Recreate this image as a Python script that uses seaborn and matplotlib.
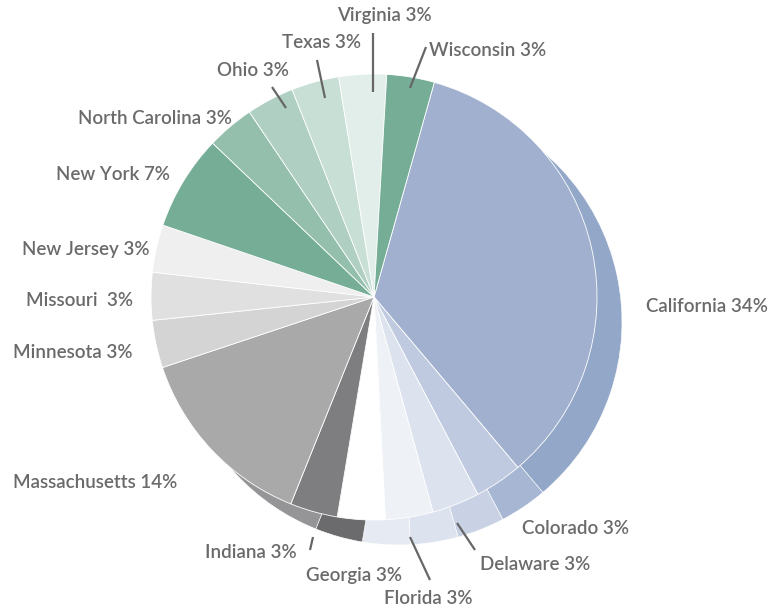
import numpy as np
import matplotlib
matplotlib.use("Agg")
import matplotlib.pyplot as plt
import seaborn as sns

# data
states = ["California", "Colorado", "Delaware", "Florida", "Georgia", "Indiana",
          "Massachusetts", "Minnesota", "Missouri", "New Jersey", "New York",
          "North Carolina", "Ohio", "Texas", "Virginia", "Wisconsin"]
counts = [10, 1, 1, 1, 1, 1, 4, 1, 1, 1, 2, 1, 1, 1, 1, 1]
pct_text = ["34%", "3%", "3%", "3%", "3%", "3%", "14%", "3%", " 3%", "3%",
            "7%", "3%", "3%", "3%", "3%", "3%"]

colors = ["#a0b0ce", "#bfcae0", "#dce3ee", "#eef1f6", "#ffffff", "#7e7e80",
          "#a9a9aa", "#d4d4d4", "#e0e0e0", "#efefef", "#75ad97", "#93bfac",
          "#aecfc1", "#c8dfd5", "#e2eeea", "#75ad97"]
shadow_colors = ["#93a8c9", "#a7b6d3", "#c9d2e4", "#dde3ee", "#e6ebf3", "#6b6b6d",
                 "#959597", "#c0c0c0", "#cccccc", "#dcdcdc", "#65a088", "#82b29d",
                 "#9dc3b3", "#b7d4c8", "#d2e3dc", "#65a088"]

# layout (pixel coords, y from top)
W, H = 774, 610
cx, cy, R = 374, 297, 223
shift = 25
label_xy = [(707, 307), (576, 528), (535, 565), (428, 598), (354, 576), (251, 552),
            (95, 483), (73, 352), (80, 301), (86, 250), (113, 175), (155, 118),
            (253, 70), (322, 43), (384, 15), (488, 50)]
leaders = {"Wisconsin": ((410, 88), (426, 47)),
           "Virginia": ((373, 92), (373, 33)),
           "Texas": ((325, 98), (317, 60)),
           "Ohio": ((286, 108), (272, 87)),
           "Indiana": ((313, 537), (310, 550)),
           "Florida": ((410, 537), (430, 580)),
           "Delaware": ((457, 523), (475, 550))}

sns.set_theme(style="white")
plt.rcParams['font.family'] = ['Lato', 'DejaVu Sans']

fig = plt.figure(figsize=(W / 100, H / 100), dpi=100)
ax = fig.add_axes([0, 0, 1, 1])

# California starts ~15.7 deg clockwise from 12 o'clock
start = 90 - 15.7

# depth: shifted darker copy behind
ax.pie(counts, colors=shadow_colors, startangle=start, counterclock=False,
       center=(cx + shift, H - cy - shift), radius=R,
       wedgeprops=dict(edgecolor="white", linewidth=0.4))
ax.pie(counts, colors=colors, startangle=start, counterclock=False,
       center=(cx, H - cy), radius=R,
       wedgeprops=dict(edgecolor="white", linewidth=0.6))

for name, pct, (lx, ly) in zip(states, pct_text, label_xy):
    ax.text(lx, H - ly, f"{name} {pct}", ha="center", va="center",
            fontsize=13.5, fontweight=600, color="#6a6a6a")

for name, ((x0, y0), (x1, y1)) in leaders.items():
    ax.plot([x0, x1], [H - y0, H - y1], color="#666666", lw=1.6,
            solid_capstyle="butt")

ax.set_xlim(0, W)
ax.set_ylim(0, H)
ax.set_aspect("equal")
ax.axis("off")

fig.savefig("out.png", dpi=100)
